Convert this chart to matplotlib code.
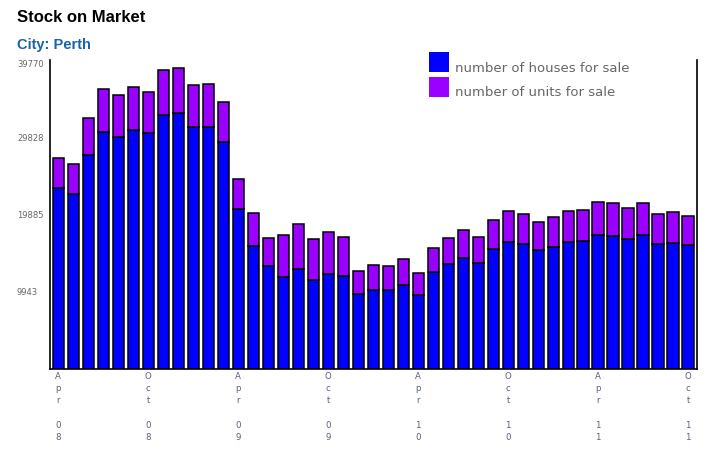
import matplotlib
matplotlib.use("Agg")
import matplotlib.pyplot as plt
from matplotlib.patches import Rectangle
import numpy as np

# monthly stock, Apr 2008 .. Oct 2011
houses = [23280, 22500, 27520, 30480, 29840, 30740, 30350, 32660, 32920, 31120,
          31120, 29190, 20650, 15790, 13250, 11830, 12860, 11450, 12220, 11960,
          9650, 10160, 10160, 10800, 9520, 12470, 13500, 14280, 13630, 15430,
          16330, 16080, 15300, 15690, 16330, 16460, 17230, 17100, 16720, 17230,
          16080, 16200, 15950]
units = [3860, 3860, 4760, 5530, 5400, 5530, 5270, 5790, 5790, 5400,
         5530, 5140, 3780, 4270, 3600, 5400, 5790, 5270, 5400, 5020,
         2960, 3220, 3090, 3340, 2830, 3090, 3340, 3600, 3340, 3730,
         3990, 3860, 3600, 3860, 3990, 3990, 4240, 4240, 3990, 4120,
         3860, 3990, 3730]
tick_pos = [0, 6, 12, 18, 24, 30, 36, 42]
tick_labels = ["Apr 08", "Oct 08", "Apr 09", "Oct 09", "Apr 10", "Oct 10", "Apr 11", "Oct 11"]
y_ticks = [9943, 19885, 29828, 39770]
series_names = ["number of houses for sale", "number of units for sale"]
colors = ["#0000ff", "#9900ff"]

fig = plt.figure(figsize=(7.11, 4.55), dpi=100)
ax = fig.add_axes([50 / 711, 85.7 / 455, 647 / 711, 309.3 / 455])

x = np.arange(len(houses))
ax.bar(x, houses, width=0.74, color=colors[0], edgecolor="black", linewidth=1.1)
ax.bar(x, units, width=0.74, bottom=houses, color=colors[1], edgecolor="black", linewidth=1.1)

ax.set_xlim(-0.55, 42.6)
ax.set_ylim(0, 39770)

ax.spines["top"].set_visible(False)
for side in ["left", "right", "bottom"]:
    ax.spines[side].set_linewidth(1.2)

# y ticks: left aligned labels at the figure edge
ax.set_yticks(y_ticks)
ax.set_yticklabels([str(v) for v in y_ticks])
ax.tick_params(axis="y", length=0, pad=23.8, labelsize=6.0, labelcolor="#666666")
for lab in ax.get_yticklabels():
    lab.set_ha("left")
    lab.set_family("DejaVu Sans")
ax.get_yticklabels()[-1].set_va("top")

# x ticks: letters stacked vertically
stacked = ["\n".join(lab.split(" ")[0]) + "\n\n" + "\n".join(lab.split(" ")[1]) for lab in tick_labels]
ax.set_xticks(tick_pos)
ax.set_xticklabels(stacked, linespacing=1.45)
ax.tick_params(axis="x", length=0, pad=2, labelsize=6.2, labelcolor="#55607a")

# titles
fig.text(17 / 711, 1 - 18 / 455, "Stock on Market", fontsize=12, fontweight="bold",
         family="Liberation Sans", color="black", va="center", ha="left")
fig.text(17 / 711, 1 - 45 / 455, "City: Perth", fontsize=10.5, fontweight="bold",
         family="Liberation Sans", color="#1a62aa", va="center", ha="left")

# legend
for i, (name, col) in enumerate(zip(series_names, colors)):
    top = 52 + 25 * i
    fig.patches.append(Rectangle((429 / 711, 1 - (top + 20) / 455), 20 / 711, 20 / 455,
                                 transform=fig.transFigure, facecolor=col, edgecolor="none"))
    fig.text(455 / 711, 1 - (top + 16) / 455, name, fontsize=9.5, color="#666666",
             family="DejaVu Sans", va="center", ha="left")

fig.savefig("out.png", dpi=100)
